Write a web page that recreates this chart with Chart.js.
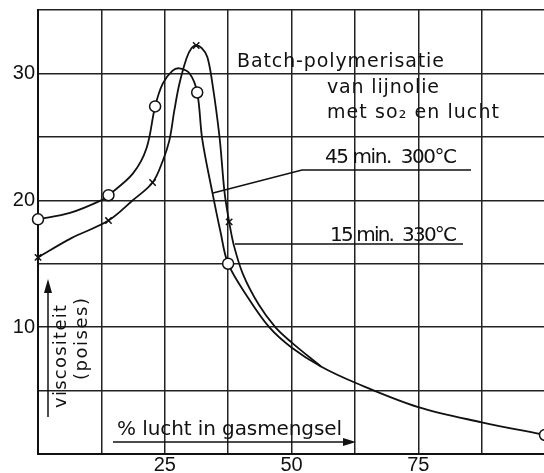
<!DOCTYPE html>
<html>
<head>
<meta charset="utf-8">
<script src="https://cdn.jsdelivr.net/npm/chart.js@4.4.1/dist/chart.umd.min.js"></script>
<style>
  html, body { margin: 0; padding: 0; background: #fff; overflow: hidden; width: 544px; height: 473px; }
  #wrap { width: 552px; height: 473px; }
</style>
</head>
<body>
<div id="wrap"><canvas id="viscChart" width="552" height="473"></canvas></div>
<script>
// % lucht in gasmengsel vs viscositeit (poises)
// 45 min. 300°C  (circles)
var pctA  = [0, 6.3, 12.5, 13.9, 18.7, 21.4, 23.1, 24.6, 26.5, 27.9, 29.9, 31.4,
             32.4, 34.4, 36.0, 37.5, 41.3, 45.6, 50.0, 55.8, 62.7, 75.0, 87.5, 100];
var viscA = [18.5, 19.0, 20.0, 20.4, 22.1, 24.1, 27.4, 29.2, 30.2, 30.4, 30.0, 28.5,
             24.8, 20.6, 17.5, 15.0, 12.4, 10.0, 8.4, 6.9, 5.6, 3.7, 2.5, 1.5];
var markA = [1,0,0,1,0,0,1,0,0,0,0,1, 0,0,0,1,0,0,0,0,0,0,0,1];

// 15 min. 330°C  (crosses)
var pctB  = [0, 6.5, 13.9, 18.7, 22.6, 24.6, 25.9, 26.9, 27.9, 29.3, 30.3, 31.2,
             32.3, 33.4, 34.4, 35.8, 36.8, 37.7, 38.6, 40.4, 43.5, 46.8, 50.0, 55.8];
var viscB = [15.5, 17.0, 18.4, 20.0, 21.4, 23.1, 24.7, 27.1, 29.2, 31.2, 32.0, 32.2,
             32.0, 31.3, 29.2, 25.0, 20.6, 18.3, 16.5, 14.2, 11.8, 10.0, 8.8, 6.9];
var markB = [1,0,1,0,1,0,0,0,0,0,0,1, 0,0,0,0,0,1,0,0,0,0,0,0];

var xLabels = [25, 50, 75];
var yLabels = [10, 20, 30];

function toPoints(xs, ys) {
    return xs.map(function (x, i) { return {x: x, y: ys[i]}; });
}

var ink = '#111';

// fit text to a given width by letter spacing
function fitText(ctx, str, x, y, width, font) {
    ctx.font = font;
    ctx.letterSpacing = '0px';
    var w = ctx.measureText(str).width;
    var sp = (width - w) / Math.max(1, str.length - 1);
    ctx.letterSpacing = sp.toFixed(2) + 'px';
    ctx.fillText(str, x, y);
    ctx.letterSpacing = '0px';
}

function line(ctx, pts) {
    ctx.beginPath();
    ctx.moveTo(pts[0][0], pts[0][1]);
    for (var i = 1; i < pts.length; i++) ctx.lineTo(pts[i][0], pts[i][1]);
    ctx.stroke();
}

var notes = {
    id: 'notes',
    afterDraw: function (chart) {
        var ctx = chart.ctx;
        ctx.save();
        ctx.fillStyle = ink;
        ctx.strokeStyle = ink;
        ctx.lineWidth = 1.5;
        ctx.textAlign = 'left';
        ctx.textBaseline = 'alphabetic';

        var f = '19px "DejaVu Sans"';
        fitText(ctx, 'Batch-polymerisatie', 237, 67, 207, f);
        fitText(ctx, 'van lijnolie', 327, 93, 112, f);
        fitText(ctx, 'met so\u2082 en lucht', 327, 118, 172, f);
        fitText(ctx, '45 min.  300\u00B0C', 325, 163, 132, '20px "DejaVu Sans"');
        fitText(ctx, '15 min.  330\u00B0C', 330, 241, 127, '20px "DejaVu Sans"');

        // leader lines
        line(ctx, [[213, 193], [302, 170], [471, 170]]);
        line(ctx, [[235, 244], [463, 244]]);

        // x axis title with arrow
        fitText(ctx, '% lucht in gasmengsel', 117, 435, 225, '20px "DejaVu Sans"');
        line(ctx, [[113, 442], [352, 442]]);
        ctx.beginPath();
        ctx.moveTo(356, 442); ctx.lineTo(343, 438); ctx.lineTo(343, 446); ctx.closePath();
        ctx.fill();

        // y axis title with arrow
        ctx.save();
        ctx.translate(61, 357);
        ctx.rotate(-Math.PI / 2);
        ctx.textBaseline = 'middle';
        fitText(ctx, 'viscositeit', -51, 0, 103, '18px "DejaVu Sans"');
        ctx.restore();
        ctx.save();
        ctx.translate(82, 339);
        ctx.rotate(-Math.PI / 2);
        ctx.textBaseline = 'middle';
        fitText(ctx, '(poises)', -41, 0, 82, '18px "DejaVu Sans"');
        ctx.restore();
        line(ctx, [[48, 417], [48, 290]]);
        ctx.beginPath();
        ctx.moveTo(48, 279); ctx.lineTo(44, 293); ctx.lineTo(52, 293); ctx.closePath();
        ctx.fill();

        ctx.restore();
    }
};

var tickFont = {family: '"Liberation Sans", Arial, sans-serif', size: 20, lineHeight: 0.6};

new Chart(document.getElementById('viscChart').getContext('2d'), {
    type: 'scatter',
    data: {
        datasets: [
            {
                label: '15 min. 330\u00B0C',
                data: toPoints(pctB, viscB),
                showLine: true,
                tension: 0.35,
                borderColor: ink,
                borderWidth: 1.8,
                pointStyle: 'crossRot',
                pointRadius: markB.map(function (m) { return m ? 4.5 : 0; }),
                pointBorderColor: ink,
                pointBorderWidth: 1.5,
                clip: false
            },
            {
                label: '45 min. 300\u00B0C',
                data: toPoints(pctA, viscA),
                showLine: true,
                tension: 0.35,
                borderColor: ink,
                borderWidth: 1.8,
                pointStyle: 'circle',
                pointRadius: markA.map(function (m) { return m ? 5.5 : 0; }),
                pointBackgroundColor: '#fff',
                pointBorderColor: ink,
                pointBorderWidth: 1.5,
                clip: false
            }
        ]
    },
    options: {
        responsive: false,
        animation: false,
        devicePixelRatio: 1,
        layout: {padding: {top: 10, right: 1, left: 0, bottom: 0}},
        plugins: {legend: {display: false}, tooltip: {enabled: false}},
        scales: {
            x: {
                type: 'linear', min: 0, max: 100,
                ticks: {
                    stepSize: 12.5, autoSkip: false, maxRotation: 0, padding: 5,
                    color: ink, font: tickFont,
                    callback: function (v) { return xLabels.indexOf(v) >= 0 ? String(v) : ''; }
                },
                grid: {color: '#222', lineWidth: 1.5, drawTicks: false},
                border: {color: ink, width: 2},
                afterFit: function (s) { s.height = 19; }
            },
            y: {
                min: 0, max: 35,
                ticks: {
                    stepSize: 5, autoSkip: false, padding: 3,
                    color: ink, font: tickFont,
                    callback: function (v) { return yLabels.indexOf(v) >= 0 ? String(v) : ''; }
                },
                grid: {color: '#222', lineWidth: 1.5, drawTicks: false},
                border: {color: ink, width: 2},
                afterFit: function (s) { s.width = 38; }
            }
        }
    },
    plugins: [notes]
});
</script>
</body>
</html>
